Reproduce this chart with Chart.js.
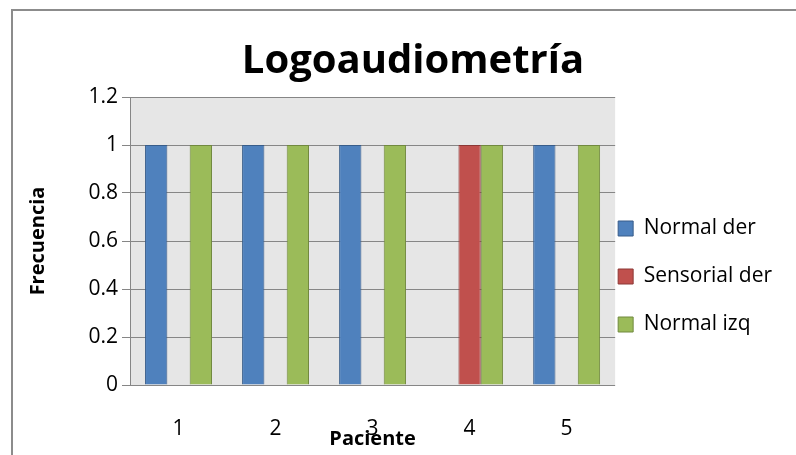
<!DOCTYPE html>
<html>
<head>
<meta charset="utf-8">
<script src="https://cdn.jsdelivr.net/npm/chart.js@4"></script>
<style>
  body { margin: 0; background: #fff; }
  #wrap { position: relative; width: 796px; height: 455px; overflow: hidden; }
  #frame { position: absolute; left: 11px; top: 9px; width: 800px; height: 460px;
           border-left: 2px solid #8c8c8c; border-top: 2px solid #8c8c8c; }
  canvas { position: absolute; left: 0; top: 0; }
</style>
</head>
<body>
<div id="wrap">
  <div id="frame"></div>
  <canvas id="chart" width="796" height="455"></canvas>
</div>
<script>
const categories = ['1', '2', '3', '4', '5'];
const normalDer = [1, 1, 1, null, 1];
const sensorialDer = [null, null, null, 1, null];
const normalIzq = [1, 1, 1, 1, 1];
const yTicks = [0, 0.2, 0.4, 0.6, 0.8, 1, 1.2];

const FONT = 'Open Sans';

// gray plot background
const plotBg = {
  id: 'plotBg',
  beforeDraw(chart) {
    const { ctx, chartArea: a } = chart;
    ctx.save();
    ctx.fillStyle = '#e6e6e6';
    ctx.fillRect(a.left, a.top, a.right - a.left, a.bottom - a.top);
    ctx.restore();
  },
};

// legend sits closer to the plot than its padding allows, and lower
const legendShift = {
  id: 'legendShift',
  afterLayout(chart) {
    const l = chart.legend;
    l.left -= 24;
    l.right -= 24;
    l.top += 45;
    l.bottom += 45;
  },
};

new Chart(document.getElementById('chart'), {
  type: 'bar',
  data: {
    labels: categories,
    datasets: [
      { label: 'Normal der', data: normalDer, backgroundColor: '#4f81bd', borderColor: '#385d8a', borderWidth: 1 },
      { label: 'Sensorial der', data: sensorialDer, backgroundColor: '#c0504d', borderColor: '#8c3836', borderWidth: 1 },
      { label: 'Normal izq', data: normalIzq, backgroundColor: '#9bbb59', borderColor: '#71893f', borderWidth: 1 },
    ],
  },
  options: {
    responsive: false,
    animation: false,
    devicePixelRatio: 1,
    layout: { padding: { left: 20, top: 8, right: -10, bottom: 0 } },
    datasets: { bar: { barPercentage: 1, categoryPercentage: 0.69, skipNull: false } },
    plugins: {
      title: {
        display: true,
        text: 'Logoaudiometría',
        color: '#000',
        font: { family: FONT, size: 40, weight: 'bold' },
        padding: { top: 30, bottom: 11 },
      },
      legend: {
        position: 'right',
        labels: {
          color: '#000',
          font: { family: FONT, size: 21 },
          boxWidth: 15,
          boxHeight: 15,
          padding: 27,
          generateLabels(chart) {
            return chart.data.datasets.map((d, i) => ({
              text: d.label,
              fillStyle: d.backgroundColor,
              strokeStyle: d.borderColor,
              lineWidth: 1,
              datasetIndex: i,
            }));
          },
        },
      },
      tooltip: { enabled: false },
    },
    scales: {
      x: {
        afterFit(scale) {
          scale.height = 70;
        },
        grid: { display: false },
        border: { display: false },
        ticks: { color: '#000', font: { family: FONT, size: 21 }, padding: 23 },
        title: {
          display: true,
          text: 'Paciente',
          color: '#000',
          font: { family: FONT, size: 20, weight: 'bold' },
          padding: { top: 0, bottom: 4 },
        },
      },
      y: {
        min: 0,
        max: 1.2,
        afterBuildTicks(scale) {
          scale.ticks = yTicks.map(v => ({ value: v }));
        },
        afterFit(scale) {
          scale.width = 110;
        },
        grid: { color: '#868686', tickColor: '#868686', tickLength: 8, drawTicks: true },
        border: { color: '#868686', width: 1 },
        ticks: {
          color: '#000',
          font: { family: FONT, size: 21 },
          padding: 4,
          callback: v => String(Math.round(v * 10) / 10),
        },
        title: {
          display: true,
          text: 'Frecuencia',
          color: '#000',
          font: { family: FONT, size: 20, weight: 'bold' },
          padding: { top: 6, bottom: 0 },
        },
      },
    },
  },
  plugins: [plotBg, legendShift],
});
</script>
</body>
</html>
